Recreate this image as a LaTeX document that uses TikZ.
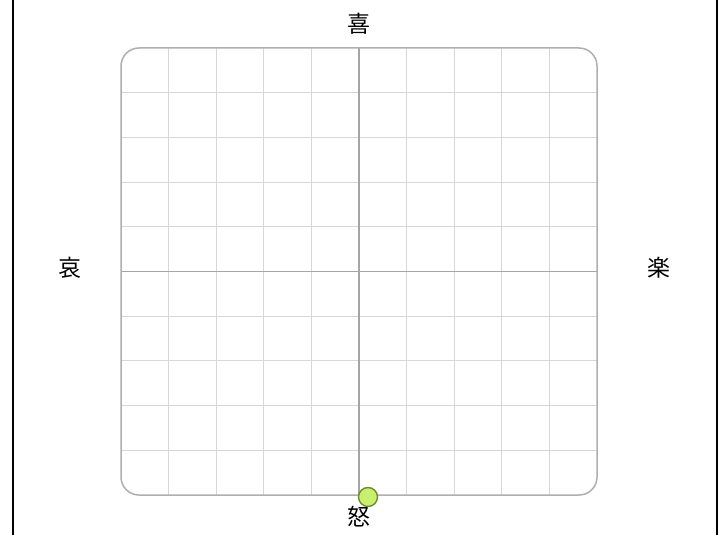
\documentclass[tikz,border=0pt]{standalone}
\usepackage{fontspec}
\newfontfamily\jpfont{Noto Sans CJK JP}
\definecolor{gridc}{RGB}{215,215,215}
\definecolor{axisc}{RGB}{165,165,165}
\definecolor{framec}{RGB}{175,175,175}
\definecolor{dotfill}{RGB}{200,240,110}
\definecolor{dotdraw}{RGB}{110,140,50}
\begin{document}
\begin{tikzpicture}[x=1pt,y=-1pt,
  lbl/.style={font=\jpfont\fontsize{23}{25}\selectfont,inner sep=0pt},
  gridline/.style={draw=gridc,line width=1pt},
  axisline/.style={draw=axisc,line width=1.5pt}]
\useasboundingbox (0,0) rectangle (728,535);
\fill[white] (0,0) rectangle (728,535);
% outer side lines
\draw[line width=2pt,black] (12.5,0) -- (12.5,535);
\draw[line width=2pt,black] (716.5,0) -- (716.5,535);
% grid
\begin{scope}
\clip[rounded corners=18pt] (121,48) rectangle (597,495);
\foreach \i in {1,2,3,4,6,7,8,9} {
  \draw[gridline] ({121+47.6*\i},48) -- ({121+47.6*\i},495);
  \draw[gridline] (121,{48+44.7*\i}) -- (597,{48+44.7*\i});
}
\end{scope}
\coordinate (top) at (359,48);
\coordinate (bot) at (359,495);
\coordinate (lft) at (121,271.5);
\coordinate (rgt) at (597,271.5);
\draw[axisline] (top) -- (bot);
\draw[axisline] (lft) -- (rgt);
\draw[draw=framec,line width=1.5pt,rounded corners=18pt] (121,48) rectangle (597,495);
% labels
\node[lbl] (ki) at (359,24) {喜};
\node[lbl] (ai) at (70,268) {哀};
\node[lbl] (raku) at (659,268) {楽};
\node[lbl] (do) at (359,517) {怒};
% marker
\node[circle,draw=dotdraw,fill=dotfill,line width=1.4pt,minimum size=19pt,inner sep=0pt] (dot) at (368,497) {};
\end{tikzpicture}
\end{document}
